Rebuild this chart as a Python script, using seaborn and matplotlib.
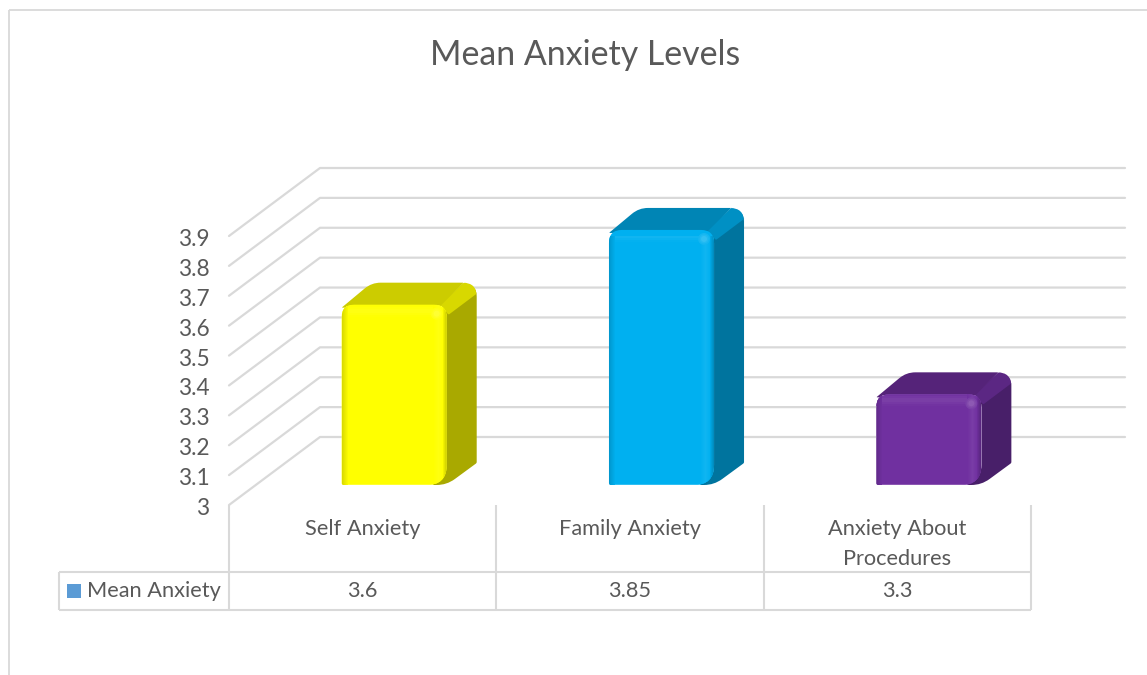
import numpy as np
import pandas as pd
import matplotlib
matplotlib.use("Agg")
import matplotlib.pyplot as plt
import seaborn as sns
from matplotlib.colors import to_rgb
from matplotlib.lines import Line2D
from matplotlib.patches import PathPatch, Rectangle, Circle
from matplotlib.path import Path
from matplotlib.transforms import Affine2D, ScaledTranslation

# ---- data ----
categories = ["Self Anxiety", "Family Anxiety", "Anxiety About\nProcedures"]
values = [3.6, 3.85, 3.3]
value_labels = ["3.6", "3.85", "3.3"]
series_name = "Mean Anxiety"
title = "Mean Anxiety Levels"
y_ticks = [3.0, 3.1, 3.2, 3.3, 3.4, 3.5, 3.6, 3.7, 3.8, 3.9]
y_labels = ["3", "3.1", "3.2", "3.3", "3.4", "3.5", "3.6", "3.7", "3.8", "3.9"]
front_colors = ["#FFFF00", "#00B0F0", "#7030A0"]
side_colors = ["#A9A900", "#00749E", "#481F69"]
top_colors = ["#CCCC00", "#0085B5", "#552379"]
edge_colors = ["#D8D800", "#0090C4", "#5B2783"]
key_color = "#5B9BD5"
line_color = "#D9D9D9"
text_color = "#595959"

W, H = 1147, 675
sns.set_theme(style="white")
plt.rcParams["font.family"] = ["Lato", "DejaVu Sans"]

fig = plt.figure(figsize=(W / 100, H / 100), dpi=100, facecolor="white")
AX_L, AX_R, AX_B, AX_T = 229, 1031, 505, 236
ax = fig.add_axes([AX_L / W, 1 - AX_B / H, (AX_R - AX_L) / W, (AX_B - AX_T) / H])
ax.patch.set_alpha(0)

df = pd.DataFrame({"category": categories, "value": values})
sns.barplot(data=df, x="category", y="value", hue="category", palette=front_colors,
            saturation=1, width=0.393, legend=False, ax=ax, zorder=3)
ax.set_xlim(-0.5, 2.5)
ax.set_ylim(3.0, 3.9)
ax.set_xlabel("")
ax.set_ylabel("")
for s in ax.spines.values():
    s.set_visible(False)

ax.set_yticks(y_ticks)
ax.set_yticklabels(y_labels, fontsize=16.3, color=text_color)
ax.tick_params(axis="y", length=0, pad=14)
ax.set_xticks(range(len(categories)))
ax.set_xticklabels(categories, fontsize=15.7, color=text_color, linespacing=1.62)
ax.tick_params(axis="x", length=0, pad=10)
for lab in ax.get_yticklabels():
    lab.set_transform(lab.get_transform() + ScaledTranslation(0, -1.5 / 100, fig.dpi_scale_trans))

fig.canvas.draw()
# pixel space with the origin at the top left of the picture
px = Affine2D().scale(1, -1).translate(0, H)


def to_px(x, y):
    xd, yd = ax.transData.transform((x, y))
    return xd, H - yd


def pline(xs, ys, lw=1.5, color=line_color, z=1):
    fig.add_artist(Line2D(xs, ys, transform=px, lw=lw, color=color, zorder=z,
                          solid_capstyle="butt"))


# side wall and back wall gridlines
WALL_DX, WALL_DY = 91, 68
for v in y_ticks:
    x0, y0 = to_px(-0.5, v)
    x1, _ = to_px(2.5, v)
    ax.add_line(Line2D([x0, x0 + WALL_DX, x1 + WALL_DX + 3], [y0, y0 - WALL_DY, y0 - WALL_DY],
                       transform=px, lw=1.6, color=line_color, zorder=1, clip_on=False))

# data table
TB_TOP, TB_BOT, TB_LEFT = 572, 610, 59
edges = [to_px(e, 3.0)[0] for e in (-0.5, 0.5, 1.5, 2.5)]
for e in edges:
    pline([e, e], [AX_B, TB_BOT])
pline([TB_LEFT, edges[-1]], [TB_TOP, TB_TOP])
pline([TB_LEFT, edges[-1]], [TB_BOT, TB_BOT])
pline([TB_LEFT, TB_LEFT], [TB_TOP, TB_BOT])
for i, lab in enumerate(value_labels):
    cx, _ = to_px(i, 3.0)
    fig.text(cx / W, 1 - 591 / H, lab, ha="center", va="center", fontsize=15.7, color=text_color)
fig.add_artist(Rectangle((67, 584), 14, 14, transform=px, fc=key_color, ec="none"))
fig.text(87 / W, 1 - 591 / H, series_name, ha="left", va="center", fontsize=15.7, color=text_color)

# chart frame
pline([9, 9], [10, H], lw=1.3)
pline([9, W], [10, 10], lw=1.3)

fig.text(585 / W, 1 - 55 / H, title, ha="center", va="center", fontsize=24.4, color=text_color)


def mix(c, other, t):
    c, o = np.array(to_rgb(c)), np.array(to_rgb(other))
    return tuple(c * (1 - t) + o * t)


def rounded(points, radii):
    """Closed path through points with each corner rounded by a quadratic curve."""
    pts = [np.array(p, float) for p in points]
    n = len(pts)
    verts, codes = [], []
    for i, (p, r) in enumerate(zip(pts, radii)):
        a, b = pts[i - 1], pts[(i + 1) % n]
        u = (a - p) / np.linalg.norm(a - p)
        w = (b - p) / np.linalg.norm(b - p)
        verts += [p + u * r, p, p + w * r]
        codes += [Path.MOVETO if i == 0 else Path.LINETO, Path.CURVE3, Path.CURVE3]
    verts.append(verts[0])
    codes.append(Path.CLOSEPOLY)
    return Path(verts, codes)


# bars: seaborn's bars are kept as the front faces, moved forward in the 3-D box
BAR_SHIFT_X, BAR_SHIFT_Y = 31.5, 20
DEPTH_X, DEPTH_Y = 30, 22
shift = ax.transData + Affine2D().translate(BAR_SHIFT_X, BAR_SHIFT_Y)
for i, patch in enumerate(ax.patches):
    v = values[i]
    patch.set_y(3.0)
    patch.set_height(v - 3.0)
    patch.set_transform(shift)
    xl, yt = shift.transform((patch.get_x(), v))
    xr, yb = shift.transform((patch.get_x() + patch.get_width(), 3.0))
    yt, yb = H - yt - 1, H - yb

    # side face
    side = rounded([(xr - 4, yt + 2), (xr + DEPTH_X, yt - DEPTH_Y), (xr + DEPTH_X, yb - DEPTH_Y),
                    (xr, yb), (xr - 14, yb)], [1, 14, 1, 10, 1])
    ax.add_patch(PathPatch(side, transform=px, fc=side_colors[i], ec="none", zorder=2.0, clip_on=False))
    # bevel band from the front top right corner to the back top right corner
    bevel = rounded([(xr - 8, yt + 1), (xr + 17, yt - DEPTH_Y), (xr + DEPTH_X, yt - DEPTH_Y),
                     (xr + DEPTH_X, yt - DEPTH_Y + 11), (xr + 2, yt + 10)], [1, 1, 14, 1, 1])
    ax.add_patch(PathPatch(bevel, transform=px, fc=edge_colors[i], ec="none", zorder=2.2, clip_on=False))
    # top face
    top = rounded([(xl, yt + 3), (xl + DEPTH_X, yt - DEPTH_Y), (xr + 17, yt - DEPTH_Y), (xr - 8, yt + 3)],
                  [1, 9, 1, 1])
    ax.add_patch(PathPatch(top, transform=px, fc=top_colors[i], ec="none", zorder=2.3, clip_on=False))

    # rounded outline of the front face
    outline = PathPatch(rounded([(xl, yt), (xr, yt), (xr, yb), (xl, yb)], [13, 13, 20, 2]),
                        transform=px, fc=front_colors[i], ec="none", zorder=2.8, clip_on=False)
    ax.add_patch(outline)
    patch.set_clip_path(outline)

    # soft bevels on the front face
    c = front_colors[i]
    strips = []
    for k in range(6):
        strips.append(((xl, yt + k * 2), xr - xl, 2, mix(c, "#FFFFFF", 0.08 * (1 - abs(k - 2.5) / 3))))
    for k in range(6):
        strips.append(((xl + k, yt), 1, yb - yt, mix(c, "#000000", 0.14 * (1 - k / 6))))
    for k in range(14):
        if k < 4:
            col = mix(c, "#000000", 0.20 * (1 - k / 4))
        else:
            col = mix(c, "#FFFFFF", 0.06 * (1 - abs(k - 8) / 5))
        strips.append(((xr - 1 - k, yt), 1, yb - yt, col))
    for xy, w, h, col in strips:
        s = Rectangle(xy, w, h, transform=px, fc=col, ec="none", zorder=3.2, clip_on=True)
        ax.add_patch(s)
        s.set_clip_path(outline)
    for r, tint in ((6, 0.08), (4.5, 0.13), (3, 0.20)):
        ax.add_patch(Circle((xr - 10, yt + 9), r, transform=px, fc=mix(c, "#FFFFFF", tint),
                            ec="none", zorder=3.4, clip_on=False))

fig.savefig("out.png", dpi=100, facecolor="white")
